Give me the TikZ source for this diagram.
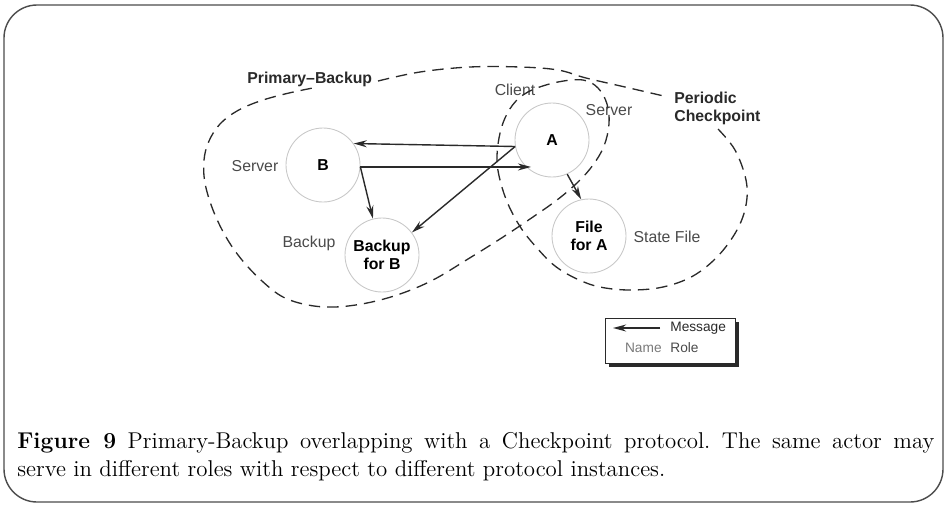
\documentclass[tikz,border=0pt]{standalone}
\usepackage{fontspec}
\newfontfamily\diagfont{Liberation Sans}
\usetikzlibrary{arrows.meta}
\definecolor{ink}{HTML}{2A2A2A}
\definecolor{rolegray}{HTML}{4A4A4A}
\definecolor{namegray}{HTML}{7A7A7A}
\definecolor{ringgray}{HTML}{C8C8C8}
\begin{document}
\begin{tikzpicture}[x=0.02cm,y=-0.02cm,
  actor/.style={circle, draw=ringgray, line width=0.5pt, minimum size=74*0.02cm,
    inner sep=0pt, align=center, font=\diagfont\fontsize{9}{10.5}\selectfont\bfseries},
  role/.style={inner sep=0pt, text=rolegray, font=\diagfont\fontsize{9}{10.5}\selectfont},
  keytext/.style={inner sep=0pt, font=\diagfont\fontsize{7.8}{9}\selectfont},
  grouplabel/.style={inner sep=0pt, text=ink, align=left, font=\diagfont\fontsize{9}{10}\selectfont\bfseries},
  msg/.style={draw=ink, line width=0.8pt, -{Stealth[length=7.5pt,width=4pt]}},
  boundary/.style={draw=ink, line width=0.75pt, dash pattern=on 6.5pt off 4pt}]
\useasboundingbox (0,0) rectangle (947,505);

% outer frame
\draw[line width=0.8pt, draw=black!70, rounded corners=33*0.02cm] (4,5) rectangle (943,502);

% actors
\node[actor] (B)  at (323,165) {B};
\node[actor] (A)  at (552,140) {A};
\node[actor] (BB) at (382,255) {Backup\\for B};
\node[actor] (FA) at (589,236) {File\\for A};

% roles
\node[role] (rsB)  at (255,166) {Server};
\node[role] (rbk)  at (309,243) {Backup};
\node[role] (rcl)  at (515,90)  {Client};
\node[role] (rsA)  at (609,110) {Server};
\node[role] (rsf)  at (667,237) {State File};

% protocol labels
\node[grouplabel, anchor=west] (pb) at (247,79) {Primary–Backup};
\node[grouplabel, anchor=north west] (pc) at (674,92) {Periodic\\Checkpoint};

% protocol boundaries
\draw[boundary] plot[smooth, tension=0.6] coordinates {
  (378,81) (420,72) (470,67) (520,67) (558,70) (586,78) (625,87) (668,97)};
\draw[boundary] plot[smooth, tension=0.6] coordinates {
  (718,129) (735,150) (746,180) (746,205) (737,230) (718,256) (693,276)
  (663,287) (630,290) (600,287) (577,279) (555,266) (537,248) (521,228)
  (508,204) (500,180) (497,160) (499,138) (505,118) (516,101) (532,90)
  (558,82) (583,80) (598,88) (607,104) (609,124) (604,146) (593,165)
  (578,182) (557,200) (530,219) (500,239) (468,259) (433,280) (400,294)
  (367,303) (335,307) (308,305) (283,297) (262,281) (242,260) (226,237)
  (213,210) (205,183) (204,160) (209,141) (220,124) (237,111) (260,101)
  (289,93) (318,87)};

% messages
\draw[msg] (A.190) -- (B.35);
\draw[msg] (B.-3) -- (B.-3 -| A.236);
\draw[msg] (B.-3) -- (BB.104);
\draw[msg] (A.190) -- (BB.37);
\draw[msg] (A.-66) -- (FA.102);

% legend
\fill[ink] (609,322) rectangle (739,367);
\node[draw=ink, fill=white, line width=0.6pt, minimum width=130*0.02cm, minimum height=45*0.02cm,
  inner sep=0pt, anchor=north west] (key) at (605,318) {};
\coordinate (keytail) at (660,328);
\coordinate (keyhead) at (613,328);
\draw[msg] (keytail) -- (keyhead);
\node[keytext, anchor=west, text=ink] (keymsg) at (670,328) {Message};
\node[keytext, anchor=east, text=namegray] (keyname) at (662,348) {Name};
\node[keytext, anchor=west, text=rolegray] (keyrole) at (670,348) {Role};

% caption
\node[anchor=north west, inner sep=0pt, text width=522pt, align=justify,
  font=\fontsize{13}{15.9}\selectfont\frenchspacing] (cap) at (17,432)
  {\textbf{Figure 9} Primary-Backup overlapping with a Checkpoint protocol. The same actor may\linebreak
   serve in different roles with respect to different protocol instances.};
\end{tikzpicture}
\end{document}
